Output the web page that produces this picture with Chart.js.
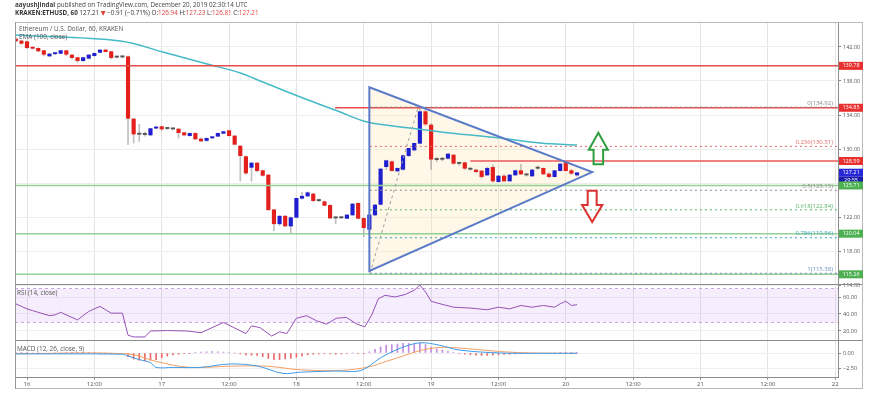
<!DOCTYPE html>
<html>
<head>
<meta charset="utf-8">
<script src="https://cdn.jsdelivr.net/npm/chart.js@4.4.1/dist/chart.umd.min.js"></script>
<style>
  body { margin: 0; background: #fff; }
  #wrap { position: relative; width: 875px; height: 393px; font-family: "Open Sans", "DejaVu Sans", sans-serif; color: #333; }
  #c { position: absolute; left: 0; top: 0; }
  .txt { position: absolute; white-space: nowrap; line-height: 1; }
  .l1 { left: 15px; top: 2px; font-size: 6.3px; color: #444; }
  .l2 { left: 15px; top: 10px; font-size: 6.3px; color: #333; }
  .l2 .v, .l2 .dn { color: #e0403a; }
  .lab { font-size: 6.4px; color: #555; }
</style>
</head>
<body>
<div id="wrap">
  <canvas id="c" width="875" height="393"></canvas>
  <div class="txt l1"><b>aayushjindal</b> published on TradingView.com, December 20, 2019 02:30:14 UTC</div>
  <div class="txt l2"><b>KRAKEN:ETHUSD, 60</b> 127.21 <span class="dn">▼</span> −0.91 (−0.71%) O:<span class="v">126.94</span> H:<span class="v">127.23</span> L:<span class="v">126.81</span> C:<span class="v">127.21</span></div>
  <div class="txt lab" style="left:19px;top:26px">Ethereum / U.S. Dollar, 60, KRAKEN</div>
  <div class="txt lab" style="left:19px;top:34px">EMA (100, close)</div>
  <div class="txt lab" style="left:17px;top:290px">RSI (14, close)</div>
  <div class="txt lab" style="left:17px;top:346px">MACD (12, 26, close, 9)</div>
</div>
<script>
// Velas de 1 hora, horas contadas desde el 16 dic 00:00
const opens = [
  142.94, 142.71, 142.63, 141.90, 141.84, 141.57, 140.94, 141.20, 141.25, 141.57,
  141.06, 140.75, 140.39, 140.67, 140.98, 141.37, 141.65, 141.45, 140.80, 140.82,
  140.86, 133.53, 131.76, 131.73, 131.65, 132.45, 132.63, 132.40, 132.35, 132.35,
  131.92, 131.57, 131.84, 131.18, 131.00, 131.30, 131.50, 131.84, 132.16, 131.53,
  130.35, 129.10, 127.84, 128.35, 127.45, 126.94, 122.85, 121.20, 122.10, 120.94,
  121.96, 124.20, 124.47, 124.71, 123.92, 123.80, 123.37, 121.88, 121.90, 121.84,
  122.24, 123.61, 121.84, 120.55, 122.24, 123.49, 127.92, 128.51, 127.41, 127.61,
  129.22, 129.88, 130.67, 134.39, 132.82, 128.75, 128.78, 128.90, 129.29, 128.30,
  128.39, 127.65, 127.53, 127.41, 126.94, 127.84, 126.16, 126.82, 126.24, 126.94,
  127.45, 126.94, 126.82, 127.73, 127.73, 127.06, 126.75, 127.45, 128.51, 127.45,
  126.94
];
const highs = [
  143.10, 142.80, 142.70, 142.00, 141.90, 141.60, 141.25, 141.35, 141.65, 141.62,
  141.10, 140.80, 140.80, 141.10, 141.30, 141.70, 141.75, 141.50, 140.90, 140.95,
  140.95, 133.60, 132.90, 132.00, 132.45, 132.70, 132.70, 132.50, 132.45, 132.40,
  132.00, 131.90, 131.90, 131.30, 131.30, 131.50, 131.90, 132.10, 132.20, 131.60,
  130.40, 129.20, 128.40, 128.40, 127.55, 127.00, 122.90, 122.15, 122.20, 122.00,
  124.25, 124.90, 124.95, 124.80, 124.10, 123.90, 123.45, 122.10, 122.00, 122.30,
  123.60, 123.70, 121.90, 122.30, 123.50, 127.70, 128.70, 128.60, 127.80, 129.30,
  130.10, 130.70, 134.92, 134.60, 133.00, 129.00, 129.00, 129.50, 129.35, 128.40,
  128.45, 127.80, 127.60, 127.50, 127.85, 128.10, 126.90, 127.00, 127.00, 127.55,
  128.20, 127.10, 127.60, 128.00, 127.80, 127.20, 127.50, 128.30, 128.65, 127.60,
  127.23
];
const lows = [
  142.60, 142.30, 141.80, 141.75, 141.45, 140.95, 140.85, 141.10, 141.20, 141.00,
  140.60, 140.20, 140.30, 140.60, 140.90, 141.30, 141.40, 140.60, 140.70, 140.70,
  130.50, 130.70, 130.90, 131.50, 131.55, 132.35, 132.20, 132.30, 132.25, 131.30,
  131.55, 131.50, 131.10, 130.85, 130.90, 131.20, 131.45, 131.80, 131.50, 130.50,
  126.20, 127.00, 126.20, 127.30, 126.80, 122.80, 120.40, 121.00, 120.90, 120.10,
  121.90, 124.10, 124.40, 123.85, 123.80, 123.30, 121.80, 121.20, 121.80, 121.80,
  122.20, 121.80, 119.70, 120.50, 122.20, 123.40, 127.60, 127.40, 127.35, 127.50,
  129.10, 129.80, 130.60, 132.80, 127.60, 128.50, 128.60, 128.80, 128.20, 128.10,
  127.60, 127.50, 127.25, 126.60, 126.90, 126.10, 126.10, 126.20, 126.20, 126.90,
  127.00, 126.80, 126.80, 127.60, 127.00, 126.60, 126.70, 127.40, 127.40, 127.00,
  126.81
];
const closes = [
  142.71, 142.43, 141.92, 141.84, 141.53, 141.14, 141.18, 141.25, 141.57, 141.14,
  140.75, 140.39, 140.75, 141.06, 141.25, 141.65, 141.45, 140.75, 140.82, 140.86,
  133.61, 131.76, 131.73, 131.70, 132.40, 132.55, 132.35, 132.40, 132.35, 131.92,
  131.65, 131.84, 131.18, 130.94, 131.26, 131.45, 131.84, 132.04, 131.57, 130.55,
  129.22, 127.18, 128.35, 127.45, 126.90, 122.85, 121.20, 122.10, 120.94, 121.92,
  124.20, 124.45, 124.86, 123.92, 123.95, 123.37, 121.88, 121.90, 121.92, 122.24,
  123.53, 121.84, 120.75, 122.24, 123.41, 127.65, 128.63, 127.45, 127.73, 129.22,
  130.08, 130.67, 134.39, 132.94, 128.80, 128.78, 128.80, 129.41, 128.31, 128.30,
  127.73, 127.61, 127.33, 126.75, 127.73, 126.24, 126.82, 126.24, 126.94, 127.45,
  127.06, 126.96, 127.53, 127.75, 127.06, 126.75, 127.45, 128.24, 127.45, 127.14,
  127.21
];

// EMA 100
const emaHours = [-2.1, 16.6, 24.2, 32.1, 38, 42, 48.7, 55.8, 60.6, 68.3, 75.4, 84.3, 91.4, 98];
const emaValues = [143.41, 142.71, 141.41, 140.0, 138.94, 137.88, 136.12, 134.35, 133.18, 132.47, 131.88, 131.29, 130.71, 130.47];

// RSI 14
const rsiHours = [-2, 0, 1, 4, 5, 6, 9, 11, 13, 15, 17, 18, 19, 21, 22, 25, 28.5, 31, 35, 39, 40, 41.5, 43.6, 45, 46.3,
  48, 49.8, 51.6, 53.4, 55.1, 56.9, 58.8, 60.2, 61.5, 62.6, 63.8, 65.6, 67.4, 69, 70, 71, 72, 73.6,
  76, 79, 82, 84, 86, 88, 90, 92, 94, 95, 96, 97, 98];
const rsiValues = [52, 46, 44, 38, 39, 42, 33, 43, 49, 41, 41, 15, 13, 13, 20, 20.5, 20, 18, 30, 17, 26, 24, 14, 19, 17,
  35, 38, 32, 28, 35, 36, 28, 25, 40, 58, 62, 60, 63, 68, 74, 66, 55, 52,
  48, 47, 45, 48, 46, 50, 48, 50, 48, 52, 55, 50, 51];

// MACD (12, 26, 9)
const macdHours = [-2, 17, 18, 20, 22, 23, 26, 30.8, 36.2, 41, 45.6, 48.7, 55, 59.5, 63, 66.5, 70, 73.5, 77, 84.5, 92, 98];
const macdValues = [-0.15, -0.2, -0.5, -1.1, -1.6, -2.4, -2.4, -2.4, -1.83, -2.17, -3.4, -3.2, -3.0, -2.9, -0.8, 0.8, 1.7, 1.3, 0.5, 0, -0.05, -0.05];
const signalHours = [-2, 18, 23, 29, 36.2, 42.8, 48.7, 56, 61, 64, 67, 70, 73, 76, 80, 85, 90, 98];
const signalValues = [-0.1, -0.15, -1.4, -2.4, -2.2, -2.2, -2.8, -2.9, -2.3, -1.4, -0.5, 0.4, 0.9, 0.9, 0.6, 0.2, 0, -0.05];
const macdHist = [
  0.05, 0.05, 0.02, 0, -0.02, -0.05, -0.05, -0.03, 0, 0.02,
  0.03, 0.05, 0.05, 0.05, 0.03, 0, -0.02, -0.05, -0.05, -0.05,
  -0.6, -1.0, -1.2, -1.3, -1.2, -1.1,
  -0.8, -0.5, -0.3, -0.2, -0.1, -0.05,
  0.05, 0.15, 0.2, 0.25, 0.2, 0.15,
  0.1, 0, -0.15, -0.3, -0.35, -0.4,
  -0.6, -0.9, -1.1, -1.1, -1.0, -0.9, -0.7, -0.5,
  -0.3, -0.2, -0.15, -0.1, -0.15, -0.2, -0.15, -0.1, 0, -0.05, -0.1,
  0.2, 0.6, 1.0, 1.3, 1.4, 1.5, 1.6, 1.6, 1.5, 1.7, 1.4, 1.0,
  0.7, 0.5, 0.3, 0.1, -0.1, -0.2, -0.3, -0.35, -0.4, -0.4, -0.35, -0.3, -0.25,
  -0.2, -0.15, -0.1, -0.1, -0.05, -0.05, 0, 0, 0, 0.05, 0.05, 0.03, 0.02
];

// Ejes
const priceTicks = [114, 116, 118, 120, 122, 124, 126, 128, 130, 132, 134, 136, 138, 140, 142, 144];
const rsiTicks = [20, 40, 60];
const macdTicks = [-2.5, 0];
const xTickHours = [0, 12, 24, 36, 48, 60, 72, 84, 96, 108, 120, 132, 144];
const xTickLabels = ['16', '12:00', '17', '12:00', '18', '12:00', '19', '12:00', '20', '12:00', '21', '12:00', '22'];

// Dibujos sobre el gráfico (en horas / precio)
const hLines = [
  { value: 139.78, from: -3, color: '#e84b4b', width: 1.5 },
  { value: 134.85, from: 54.9, color: '#e84b4b', width: 1.5 },
  { value: 128.59, from: 79, color: '#ee8080', width: 2 },
  { value: 125.71, from: -3, color: '#93d093', width: 1.5 },
  { value: 120.04, from: -3, color: '#93d093', width: 1.5 },
  { value: 115.26, from: -3, color: '#93d093', width: 1.5 }
];
const fibHigh = 134.92, fibLow = 115.38, fibStart = 61.1, fibEnd = 69.7;
const fibLevels = [0, 0.236, 0.5, 0.618, 0.786, 1];
const fibColors = ['#8a8a8a', '#e06a6a', '#8a8a8a', '#59b36b', '#3ea3b8', '#6f8fc0'];
const triangle = [[61, 137.27], [61, 115.65], [100.7, 127.29]];
const badges = [
  { value: 139.78, text: '139.78', color: '#e8312f' },
  { value: 134.85, text: '134.85', color: '#e8312f' },
  { value: 128.59, text: '128.59', color: '#e8312f' },
  { value: 127.21, text: '127.21', color: '#2727d8' },
  { value: 125.71, text: '125.71', color: '#4caf50' },
  { value: 120.04, text: '120.04', color: '#4caf50' },
  { value: 115.26, text: '115.26', color: '#4caf50' }
];

const candleHours = opens.map((_, i) => i - 2);
const candleColor = (i) => {
  const d = closes[i] - opens[i];
  if (Math.abs(d) < 0.05) return '#555555';
  return d > 0 ? '#1f1fd0' : '#e3201b';
};

const overlay = {
  id: 'overlay',
  beforeDatasetsDraw(chart) {
    const { ctx, chartArea, scales } = chart;
    const x = scales.x, y = scales.y, r = scales.rsi;
    ctx.save();
    // banda RSI 30-70
    const t70 = r.getPixelForValue(70), t30 = r.getPixelForValue(30);
    ctx.fillStyle = 'rgba(186, 120, 230, 0.13)';
    ctx.fillRect(chartArea.left, t70, chartArea.right - chartArea.left, t30 - t70);
    ctx.strokeStyle = '#c8a6df';
    ctx.lineWidth = 1;
    ctx.setLineDash([3, 3]);
    [t70, t30].forEach(t => {
      ctx.beginPath(); ctx.moveTo(chartArea.left, t); ctx.lineTo(chartArea.right, t); ctx.stroke();
    });
    ctx.setLineDash([]);
    // relleno del triángulo
    ctx.beginPath();
    triangle.forEach(([h, p], i) => {
      const px = x.getPixelForValue(h), py = y.getPixelForValue(p);
      i ? ctx.lineTo(px, py) : ctx.moveTo(px, py);
    });
    ctx.closePath();
    ctx.fillStyle = 'rgba(255, 226, 170, 0.28)';
    ctx.fill();
    ctx.restore();
  },
  afterDatasetsDraw(chart) {
    const { ctx, chartArea, scales } = chart;
    const x = scales.x, y = scales.y;
    ctx.save();
    ctx.beginPath();
    ctx.rect(chartArea.left, y.top, chartArea.right - chartArea.left, y.bottom - y.top);
    ctx.clip();
    // líneas horizontales
    hLines.forEach(l => {
      const py = y.getPixelForValue(l.value);
      ctx.strokeStyle = l.color; ctx.lineWidth = l.width;
      ctx.beginPath(); ctx.moveTo(Math.max(chartArea.left, x.getPixelForValue(l.from)), py);
      ctx.lineTo(chartArea.right, py); ctx.stroke();
    });
    // fibonacci
    ctx.font = '6px "Open Sans", sans-serif';
    ctx.textAlign = 'right';
    ctx.textBaseline = 'bottom';
    fibLevels.forEach((lvl, i) => {
      const val = fibHigh - lvl * (fibHigh - fibLow);
      const py = y.getPixelForValue(val);
      ctx.strokeStyle = fibColors[i]; ctx.lineWidth = 1;
      ctx.setLineDash([2, 3]);
      ctx.beginPath(); ctx.moveTo(x.getPixelForValue(fibStart), py); ctx.lineTo(chartArea.right, py); ctx.stroke();
      ctx.fillStyle = fibColors[i];
      ctx.fillText(lvl + '(' + val.toFixed(2) + ')', chartArea.right - 5, py - 1);
    });
    ctx.strokeStyle = '#a0a0a0';
    ctx.setLineDash([3, 3]);
    ctx.beginPath();
    ctx.moveTo(x.getPixelForValue(fibStart), y.getPixelForValue(fibLow));
    ctx.lineTo(x.getPixelForValue(fibEnd), y.getPixelForValue(fibHigh));
    ctx.stroke();
    ctx.setLineDash([]);
    // triángulo
    ctx.strokeStyle = '#5a7bc8'; ctx.lineWidth = 2;
    ctx.beginPath();
    triangle.forEach(([h, p], i) => {
      const px = x.getPixelForValue(h), py = y.getPixelForValue(p);
      i ? ctx.lineTo(px, py) : ctx.moveTo(px, py);
    });
    ctx.closePath(); ctx.stroke();
    // flechas
    const arrow = (h, tail, neck, tip, shaft, head, color) => {
      const cx = x.getPixelForValue(h);
      const s = x.getPixelForValue(h + shaft) - cx, w = x.getPixelForValue(h + head) - cx;
      const yt = y.getPixelForValue(tail), yn = y.getPixelForValue(neck), yp = y.getPixelForValue(tip);
      ctx.strokeStyle = color; ctx.lineWidth = 2; ctx.lineJoin = 'miter';
      ctx.beginPath();
      ctx.moveTo(cx - s, yt); ctx.lineTo(cx - s, yn); ctx.lineTo(cx - w, yn); ctx.lineTo(cx, yp);
      ctx.lineTo(cx + w, yn); ctx.lineTo(cx + s, yn); ctx.lineTo(cx + s, yt); ctx.closePath();
      ctx.stroke();
    };
    arrow(101.8, 128.2, 129.9, 131.9, 0.85, 1.7, '#2e9e3e');
    arrow(100.7, 125.1, 123.4, 121.4, 0.8, 1.8, '#d83232');
    ctx.restore();
  },
  afterDraw(chart) {
    const { ctx, chartArea, scales } = chart;
    const y = scales.y, r = scales.rsi, m = scales.macd, x = scales.x;
    ctx.save();
    // separadores de paneles
    ctx.strokeStyle = '#8c8c8c'; ctx.lineWidth = 1;
    [r.top, m.top].forEach(t => {
      ctx.beginPath(); ctx.moveTo(chartArea.left, Math.round(t) + 0.5); ctx.lineTo(y.right, Math.round(t) + 0.5); ctx.stroke();
    });
    // marco
    ctx.strokeStyle = '#b8b8b8';
    ctx.strokeRect(chartArea.left + 0.5, chartArea.top + 0.5, y.right - chartArea.left - 1, x.bottom - chartArea.top - 1);
    ctx.strokeStyle = '#9a9a9a';
    ctx.beginPath(); ctx.moveTo(chartArea.left + 0.5, chartArea.top); ctx.lineTo(chartArea.left + 0.5, x.bottom); ctx.stroke();
    // etiquetas de precio
    ctx.font = '5.5px "Open Sans", sans-serif';
    ctx.textAlign = 'center'; ctx.textBaseline = 'middle';
    badges.forEach(b => {
      const py = y.getPixelForValue(b.value);
      ctx.fillStyle = b.color;
      ctx.fillRect(y.left + 1, py - 4, 24, 8);
      ctx.fillStyle = '#fff';
      ctx.fillText(b.text, y.left + 13, py);
      if (b.text === closes[closes.length - 1].toFixed(2)) {
        ctx.fillStyle = '#1c1ca8';
        ctx.fillRect(y.left + 1, py + 4, 24, 8);
        ctx.fillStyle = '#fff';
        ctx.fillText('29:55', y.left + 13, py + 8);
      }
    });
    ctx.restore();
  }
};

const tickFont = { family: '"Open Sans", sans-serif', size: 5.5 };
const yAxis = (stackWeight, min, max, ticks, fmt, gridColor) => ({
  type: 'linear', position: 'right', stack: 'panes', stackWeight, min, max,
  afterBuildTicks: s => { s.ticks = ticks.map(v => ({ value: v })); },
  afterFit: s => { s.width = 25; },
  ticks: { font: tickFont, color: '#555', padding: 2, callback: fmt },
  grid: { color: gridColor, tickLength: 3, tickColor: '#888' },
  border: { display: true, color: '#8c8c8c' }
});
const fmt2 = v => v.toFixed(2).replace('-', '\u2212');

new Chart(document.getElementById('c'), {
  type: 'bar',
  data: {
    datasets: [
      {
        label: 'wicks', yAxisID: 'y', grouped: false, barThickness: 1, order: 3,
        data: candleHours.map((h, i) => ({ x: h, y: [lows[i], highs[i]] })),
        backgroundColor: 'rgba(140, 140, 140, 0.55)'
      },
      {
        label: 'ETHUSD', yAxisID: 'y', grouped: false, barThickness: 3.5, minBarLength: 1.2, order: 2,
        data: candleHours.map((h, i) => ({ x: h, y: [opens[i], closes[i]] })),
        backgroundColor: candleHours.map((_, i) => candleColor(i))
      },
      {
        type: 'line', label: 'EMA', yAxisID: 'y', order: 1,
        data: emaHours.map((h, i) => ({ x: h, y: emaValues[i] })),
        borderColor: '#45b9c6', borderWidth: 1.5, pointRadius: 0, tension: 0.35
      },
      {
        type: 'line', label: 'RSI', yAxisID: 'rsi',
        data: rsiHours.map((h, i) => ({ x: h, y: rsiValues[i] })),
        borderColor: '#9552b8', borderWidth: 1, pointRadius: 0, tension: 0
      },
      {
        type: 'line', label: 'MACD', yAxisID: 'macd',
        data: macdHours.map((h, i) => ({ x: h, y: macdValues[i] })),
        borderColor: '#3d9be9', borderWidth: 1, pointRadius: 0, tension: 0.35
      },
      {
        type: 'line', label: 'Signal', yAxisID: 'macd',
        data: signalHours.map((h, i) => ({ x: h, y: signalValues[i] })),
        borderColor: '#f5a063', borderWidth: 1, pointRadius: 0, tension: 0.35
      },
      {
        label: 'Hist', yAxisID: 'macd', grouped: false, barThickness: 1,
        data: candleHours.map((h, i) => ({ x: h, y: macdHist[i] })),
        backgroundColor: macdHist.map(v => v >= 0 ? '#c48be0' : '#e8686c')
      }
    ]
  },
  options: {
    responsive: false,
    animation: false,
    events: [],
    devicePixelRatio: 1,
    layout: { padding: { left: 15, right: 12, top: 22, bottom: 4 } },
    plugins: { legend: { display: false }, tooltip: { enabled: false } },
    scales: {
      x: {
        type: 'linear', min: -2.14, max: 144.5, offset: false,
        afterBuildTicks: s => { s.ticks = xTickHours.map(v => ({ value: v })); },
        afterFit: s => { s.height = 12; },
        ticks: { autoSkip: false, maxRotation: 0, font: { family: '"Open Sans", sans-serif', size: 6 }, color: '#555', padding: 1,
          callback: (v, i) => xTickLabels[i] },
        grid: { offset: false, color: '#e4e4e4', tickLength: 3, tickColor: '#999' },
        border: { display: true, color: '#8c8c8c' }
      },
      y: yAxis(262, 114.12, 144.94, priceTicks, fmt2, '#ededed'),
      rsi: yAxis(56, 9.4, 75.3, rsiTicks, fmt2, '#efefef'),
      macd: yAxis(37, -4.0, 2.17, macdTicks, fmt2, '#efefef')
    }
  },
  plugins: [overlay]
});
</script>
</body>
</html>
